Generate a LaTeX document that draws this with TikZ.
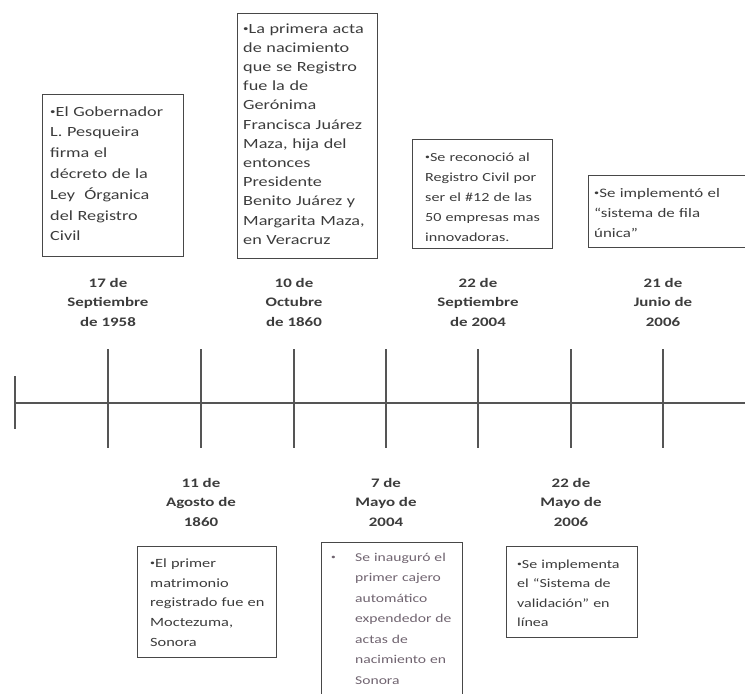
\documentclass[tikz,border=0pt]{standalone}
\usepackage{fontspec}
\setmainfont[FakeStretch=1.3]{Carlito}
\usetikzlibrary{calc}
\definecolor{txtc}{RGB}{60,60,60}
\definecolor{linec}{RGB}{85,85,85}
\definecolor{boxc}{RGB}{72,72,72}
\definecolor{lightc}{RGB}{112,100,112}
\newcommand\bul{\raisebox{0.12em}{\scalebox{0.6}{•}}}
\begin{document}
\begin{tikzpicture}[x=1pt,y=-1pt,
  box/.style={draw=boxc, line width=1.4pt, inner sep=0pt, anchor=north west},
  txt/.style 2 args={inner sep=0pt, anchor=base west, text width=200pt, align=left, text=txtc, font=\fontsize{#1}{#2}\selectfont},
  ltxt/.style={inner sep=0pt, anchor=base west, text width=200pt, align=left, text=lightc, font=\fontsize{12}{20.5}\selectfont},
  datelbl/.style={inner sep=0pt, align=center, text=txtc, font=\fontsize{13}{19.5}\selectfont\bfseries},
  tl/.style={draw=linec, line width=1.6pt}]
\useasboundingbox (0,0) rectangle (745,694);

% timeline
\coordinate (L) at (15,403);
\coordinate (R) at (745,403);
\draw[tl] (L) -- (R);
\coordinate (Lt) at (15,376);
\coordinate (Lb) at (15,429);
\draw[tl] (Lt) -- (Lb);
\foreach \i/\x in {1/108,2/201,3/294,4/386,5/478,6/571,7/663}{
  \coordinate (t\i a) at (\x,349);
  \coordinate (t\i b) at (\x,448);
  \draw[tl] (t\i a) -- (t\i b);
}

% dates
\node[datelbl] (d1) at (108,302) {17 de\\Septiembre\\de 1958};
\node[datelbl] (d3) at (294,302) {10 de\\Octubre\\de 1860};
\node[datelbl] (d5) at (478,302) {22 de\\Septiembre\\de 2004};
\node[datelbl] (d7) at (663,302) {21 de\\Junio de\\2006};
\node[datelbl] (d2) at (201,502) {11 de\\Agosto de\\1860};
\node[datelbl] (d4) at (386,502) {7 de\\Mayo de\\2004};
\node[datelbl] (d6) at (571,502) {22 de\\Mayo de\\2006};

% top boxes
\node[box, minimum width=141pt, minimum height=162pt] (b1) at (42,94) {};
\node[txt={14}{20.8}] (x1) at (50,116) {\bul El Gobernador\\L. Pesqueira\\firma el\\décreto de la\\Ley\ \ Órganica\\del Registro\\Civil};

\node[box, minimum width=140pt, minimum height=245pt] (b2) at (237,13) {};
\node[txt={14}{19.2}] (x2) at (243,33) {\bul La primera acta\\de nacimiento\\que se Registro\\fue la de\\Gerónima\\Francisca Juárez\\Maza, hija del\\entonces\\Presidente\\Benito Juárez y\\Margarita Maza,\\en Veracruz};

\node[box, minimum width=140pt, minimum height=109pt] (b3) at (412,139) {};
\node[txt={12.4}{20}] (x3) at (425,161) {\bul Se reconoció al\\Registro Civil por\\ser el \#12 de las\\50 empresas mas\\innovadoras.};

\node[box, minimum width=165pt, minimum height=72pt] (b4) at (588,175) {};
\node[txt={13}{20.3}] (x4) at (594,197) {\bul Se implementó el\\“sistema de fila\\única”};

% bottom boxes
\node[box, minimum width=139pt, minimum height=111pt] (b5) at (137,546) {};
\node[txt={12.6}{19.7}] (x5) at (150,567.5) {\bul El primer\\matrimonio\\registrado fue en\\Moctezuma,\\Sonora};

\node[box, minimum width=141pt, minimum height=170pt] (b6) at (321,542) {};
\node[ltxt] (x6b) at (331,561) {\bul};
\node[ltxt] (x6) at (355,561) {Se inauguró el\\primer cajero\\automático\\expendedor de\\actas de\\nacimiento en\\Sonora};

\node[box, minimum width=131pt, minimum height=91pt] (b7) at (506,546) {};
\node[txt={12.3}{19.5}] (x7) at (517,568) {\bul Se implementa\\el “Sistema de\\validación” en\\línea};
\end{tikzpicture}
\end{document}
